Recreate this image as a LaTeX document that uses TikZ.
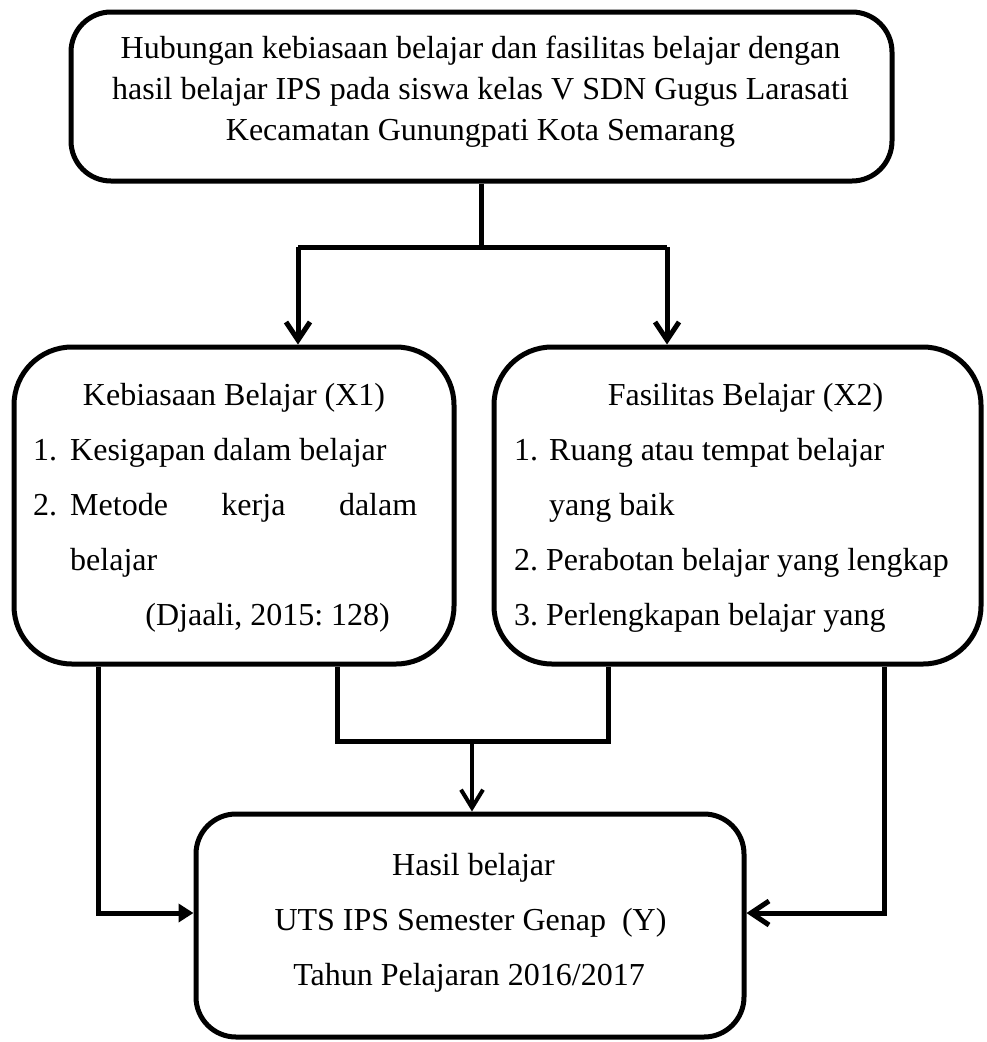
\documentclass[tikz,border=0pt]{standalone}
\usepackage{fontspec}
\setmainfont{Liberation Serif}
\usetikzlibrary{arrows.meta}
\begin{document}
\begin{tikzpicture}[x=1pt,y=-1pt,
  box/.style={draw, line width=5pt, inner sep=0pt},
  txt/.style={inner sep=0pt, font=\fontsize{32}{40}\selectfont\frenchspacing},
  con/.style={line width=5pt},
  varr/.style={con, -{Straight Barb[length=18pt,width=24pt]}},
  tarr/.style={con, -{Triangle[length=15pt,width=18pt]}},
  marr/.style={line width=4pt, -{Straight Barb[length=18pt,width=22pt]}}
]
\useasboundingbox (0,0) rectangle (986,1042);

% boxes
\node[box, rounded corners=40pt, minimum width=821pt, minimum height=169pt] (top) at (481.5,96.5) {};
\node[box, rounded corners=58pt, minimum width=440pt, minimum height=317pt] (kb) at (234,505.5) {};
\node[box, rounded corners=58pt, minimum width=487pt, minimum height=317pt] (fb) at (737.5,505.5) {};
\node[box, rounded corners=40pt, minimum width=548pt, minimum height=223pt] (hb) at (470,925.5) {};

% top box text
\node[txt, anchor=base] (t1) at (480.5,58) {Hubungan kebiasaan belajar dan fasilitas belajar dengan};
\node[txt, anchor=base] (t2) at (480.5,99) {hasil belajar IPS pada siswa kelas V SDN Gugus Larasati};
\node[txt, anchor=base] (t3) at (480.5,140) {Kecamatan Gunungpati Kota Semarang};

% left box text
\node[txt, anchor=base] (k0) at (234,405) {Kebiasaan Belajar (X1)};
\node[txt, anchor=base west] (k1n) at (33,460) {1.};
\node[txt, anchor=base west] (k1) at (70,460) {Kesigapan dalam belajar};
\node[txt, anchor=base west] (k2n) at (33,515) {2.};
\node[txt, anchor=base west] (k2) at (70,515) {\makebox[347pt][s]{Metode kerja dalam}};
\node[txt, anchor=base west] (k3) at (70,570) {belajar};
\node[txt, anchor=base east] (k4) at (390,625) {(Djaali, 2015: 128)};

% right box text
\node[txt, anchor=base] (f0) at (745.5,405) {Fasilitas Belajar (X2)};
\node[txt, anchor=base west] (f1n) at (514,460) {1.};
\node[txt, anchor=base west] (f1) at (549,460) {Ruang atau tempat belajar};
\node[txt, anchor=base west] (f2) at (549,515) {yang baik};
\node[txt, anchor=base west] (f3) at (514,570) {2. Perabotan belajar yang lengkap};
\node[txt, anchor=base west] (f4) at (514,625) {3. Perlengkapan belajar yang};

% bottom box text
\node[txt, anchor=base] (h1) at (473.5,875) {Hasil belajar};
\node[txt, anchor=base] (h2) at (470.5,930) {UTS IPS Semester Genap~ (Y)};
\node[txt, anchor=base] (h3) at (469,985) {Tahun Pelajaran 2016/2017};

% connectors from top
\coordinate (split) at (481.5,247);
\coordinate (sl) at (298,247);
\coordinate (sr) at (667,247);
\draw[con] (top.south) -- (split);
\draw[con] (sl) -- (sr);
\draw[varr] (sl) -- (sl |- kb.north);
\draw[varr] (sr) -- (sr |- fb.north);

% side connectors to bottom box
\coordinate (lc) at (98,913);
\coordinate (rc) at (884,913);
\draw[tarr] (lc |- kb.south) -- (lc) -- (lc -| hb.west);
\draw[varr] (rc |- fb.south) -- (rc) -- (rc -| hb.east);

% middle join
\coordinate (ml) at (337,741);
\coordinate (mr) at (608,741);
\coordinate (mc) at (472,741);
\draw[con] (ml |- kb.south) -- (ml) -- (mr) -- (mr |- fb.south);
\draw[marr] (mc) -- (mc |- hb.north);
\end{tikzpicture}
\end{document}
